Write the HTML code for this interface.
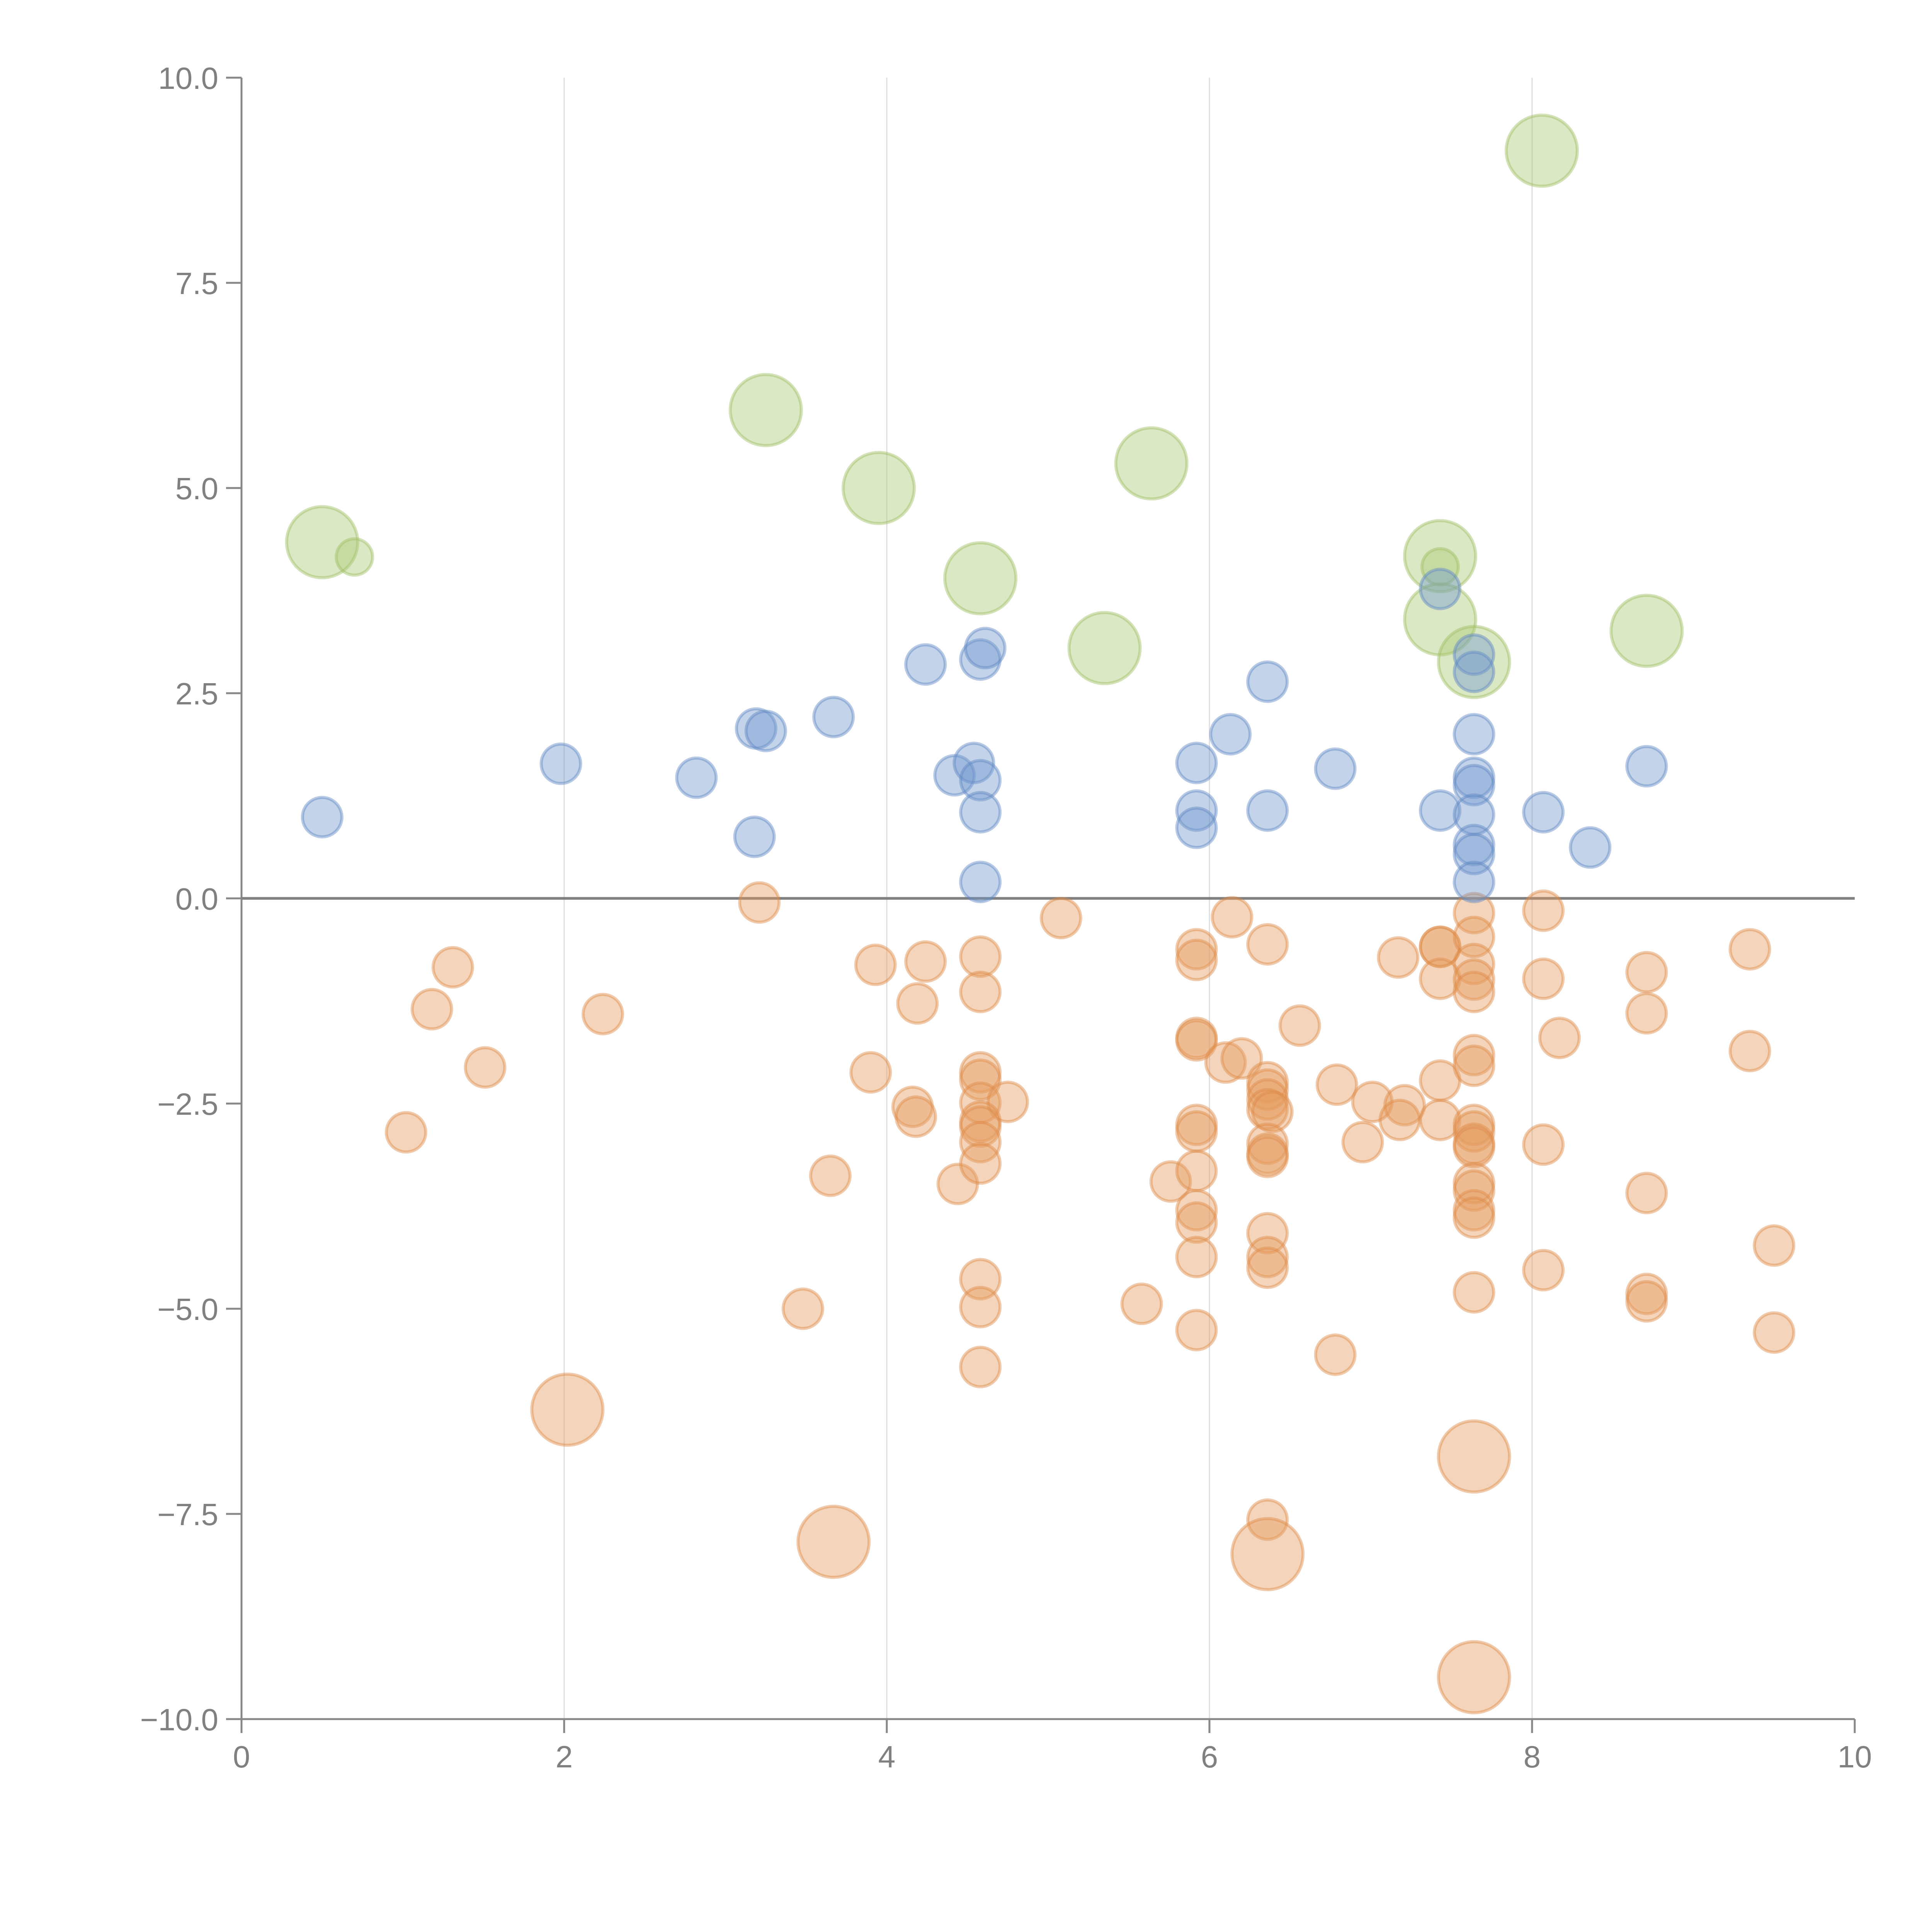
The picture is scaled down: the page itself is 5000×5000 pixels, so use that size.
<!DOCTYPE html>
<html><head><meta charset="utf-8"><style>
html,body{margin:0;padding:0;background:#fff}
svg{display:block}
text{font-family:"Liberation Sans",sans-serif;fill:#808080;font-size:80px}
</style></head><body>
<svg id="chart" width="5000" height="5000" viewBox="0 0 5000 5000" xmlns="http://www.w3.org/2000/svg">
<g id="grid"></g>
<g id="axes"></g>
<g id="marks"></g>
</svg>
<script>
const xTicks=[0,2,4,6,8,10];
const yTicks=[-10,-7.5,-5,-2.5,0,2.5,5,7.5,10];
const greenX=[0.50,0.70,3.25,3.95,4.58,5.64,5.35,7.43,7.43,7.43,7.64,8.06,8.71];
const greenY=[4.34,4.16,5.95,5.00,3.90,5.30,3.05,4.17,4.04,3.40,2.88,9.11,3.26];
const greenBig=[1,0,1,1,1,1,1,1,0,1,1,1,1];
const blueX=[0.50,1.98,2.82,3.19,3.25,3.18,3.67,4.24,4.42,4.54,4.58,4.58,4.58,4.61,4.58,5.92,5.92,5.92,6.13,6.36,6.36,6.78,7.43,7.43,7.64,7.64,7.64,7.64,7.64,7.64,7.64,7.64,7.64,8.07,8.36,8.71];
const blueY=[0.99,1.64,1.47,2.07,2.04,0.75,2.21,2.85,1.50,1.65,1.44,1.05,2.91,3.05,0.20,1.65,1.07,0.86,2.00,2.64,1.07,1.58,1.07,3.77,2.97,2.76,2.00,1.47,1.38,1.02,0.65,0.54,0.20,1.05,0.62,1.61];
const orangeX=[3.21,1.31,1.18,1.51,2.24,1.02,3.93,4.24,4.19,3.90,4.16,4.18,3.65,3.48,4.44,4.58,4.58,4.58,4.58,4.58,4.75,4.58,4.58,4.58,4.58,4.58,4.58,4.58,5.08,5.58,5.76,5.92,5.92,5.92,5.92,5.92,5.92,5.92,5.92,5.92,5.92,5.92,6.10,6.20,6.14,6.36,6.36,6.36,6.36,6.36,6.39,6.36,6.36,6.36,6.36,6.36,6.36,6.36,6.56,6.79,7.01,6.95,6.78,7.17,7.21,7.18,7.43,7.43,7.43,7.43,7.43,7.64,7.64,7.64,7.64,7.64,7.64,7.64,7.64,7.64,7.64,7.64,7.64,7.64,7.64,7.64,7.64,8.07,8.07,8.17,8.07,8.07,8.71,8.71,8.71,8.71,8.71,9.35,9.35,9.50,9.50];
const orangeY=[-0.05,-0.84,-1.35,-2.06,-1.41,-2.85,-0.81,-0.77,-1.28,-2.12,-2.54,-2.66,-3.38,-5.00,-3.48,-0.71,-1.14,-2.12,-2.21,-2.49,-2.48,-2.72,-2.78,-2.97,-3.23,-4.64,-4.98,-5.71,-0.24,-4.94,-3.45,-0.62,-0.75,-1.70,-1.73,-2.76,-2.84,-3.32,-3.80,-3.95,-4.37,-5.26,-2.00,-1.95,-0.23,-0.56,-2.24,-2.33,-2.45,-2.57,-2.60,-2.99,-3.11,-3.15,-4.08,-4.37,-4.50,-7.57,-1.55,-2.27,-2.48,-2.97,-5.56,-0.72,-2.52,-2.70,-0.59,-0.59,-0.98,-2.22,-2.70,-0.18,-0.47,-0.80,-0.99,-1.14,-1.91,-2.04,-2.76,-2.84,-2.99,-3.03,-3.47,-3.56,-3.80,-3.89,-4.80,-0.15,-0.98,-1.70,-3.00,-4.53,-0.90,-1.40,-3.59,-4.82,-4.91,-0.62,-1.86,-4.23,-5.29];
const orangeBigX=[2.02,3.67,6.36,7.64,7.64];
const orangeBigY=[-6.23,-7.84,-7.99,-6.80,-9.49];

const NS="http://www.w3.org/2000/svg";
const X=v=>625+v*417.5;
const Y=v=>2325-v*212.4;
function mk(tag,parent,attrs){const e=document.createElementNS(NS,tag);for(const k in attrs)e.setAttribute(k,attrs[k]);parent.appendChild(e);return e;}
const grid=document.getElementById('grid'),axes=document.getElementById('axes'),marks=document.getElementById('marks');

xTicks.forEach(t=>{
  if(t>0&&t<10){const l=mk('line',grid,{x1:X(t),x2:X(t),y1:Y(10),y2:Y(-10),stroke:'#dcdcdc','stroke-width':3});
  
  }
  const tk=mk('line',axes,{x1:X(t),x2:X(t),y1:Y(-10),y2:Y(-10)+36,stroke:'#888','stroke-width':5});
  
  
  const tx=mk('text',axes,{x:X(t),y:Y(-10)+125,'text-anchor':'middle'});tx.textContent=String(t);
  
  
});
yTicks.forEach(t=>{
  const tk=mk('line',axes,{x1:X(0)-40,x2:X(0),y1:Y(t),y2:Y(t),stroke:'#888','stroke-width':5});
  
  
  const tx=mk('text',axes,{x:X(0)-60,y:Y(t)+29,'text-anchor':'end'});tx.textContent=(t<0?'\u2212':'')+Math.abs(t).toFixed(1);
  
  
});
const ya=mk('line',axes,{x1:X(0),x2:X(0),y1:Y(10),y2:Y(-10),stroke:'#888','stroke-width':5});


const xa=mk('line',axes,{x1:X(0),x2:X(10),y1:Y(-10),y2:Y(-10),stroke:'#888','stroke-width':5});


const zl=mk('line',axes,{x1:X(0),x2:X(10),y1:Y(0),y2:Y(0),stroke:'#808080','stroke-width':7});



function dot(x,y,r,fill,stroke,name){
  const c=mk('circle',marks,{cx:X(x),cy:Y(y),r:r,fill:fill,'fill-opacity':0.42,stroke:stroke,'stroke-opacity':0.45,'stroke-width':8});
  
  
}
orangeX.forEach((x,i)=>dot(x,orangeY[i],51,'#e59a5e','#dd8a48','orange-bubble'));
orangeBigX.forEach((x,i)=>dot(x,orangeBigY[i],92,'#e59a5e','#dd8a48','orange-large-bubble'));
greenX.forEach((x,i)=>dot(x,greenY[i],greenBig[i]?92:47,'#a9c873','#9dbf62','green-bubble'));
blueX.forEach((x,i)=>dot(x,blueY[i],51,'#6f95cc','#5f88c4','blue-bubble'));
</script>
</body></html>
